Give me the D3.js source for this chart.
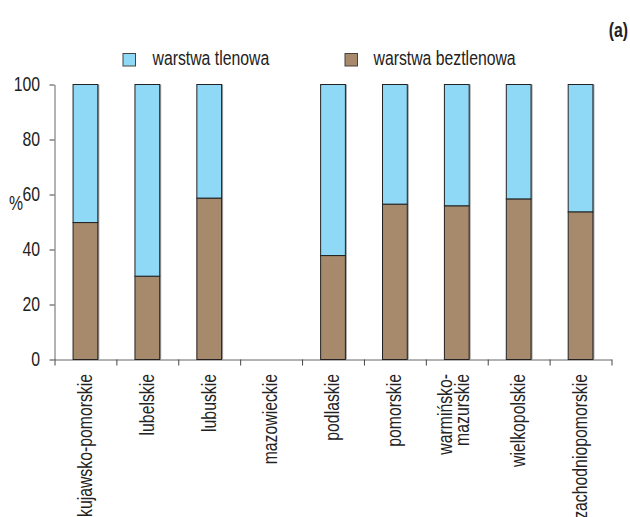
<!DOCTYPE html>
<html>
<head>
<meta charset="utf-8">
<script src="https://cdn.jsdelivr.net/npm/d3@7"></script>
<style>
  html, body { margin: 0; padding: 0; background: #fff; }
  svg { display: block; }
  text { font-family: "Liberation Sans", Arial, sans-serif; fill: #222; }
</style>
</head>
<body>
<svg id="chart" width="630" height="517"></svg>
<script>
const categories = ["kujawsko-pomorskie", "lubelskie", "lubuskie", "mazowieckie", "podlaskie", "pomorskie", "warmińsko-mazurskie", "wielkopolskie", "zachodniopomorskie"];
const categoryLabels = [["kujawsko-pomorskie"], ["lubelskie"], ["lubuskie"], ["mazowieckie"], ["podlaskie"], ["pomorskie"], ["warmińsko-", "mazurskie"], ["wielkopolskie"], ["zachodniopomorskie"]];
const beztlenowa = [49.8, 30.3, 58.7, null, 37.8, 56.5, 55.9, 58.4, 53.7];
const tlenowa = [50.2, 69.7, 41.3, null, 62.2, 43.5, 44.1, 41.6, 46.3];
const seriesNames = ["warstwa tlenowa", "warstwa beztlenowa"];
const yTicks = [0, 20, 40, 60, 80, 100];

const colors = { tlenowa: "#8fd9f6", beztlenowa: "#a78a6b" };

const FS = 19.5;      // font size
const SX = 0.81;      // horizontal condensing (narrow face)

const svg = d3.select("#chart");
const pLeft = 54.5, pRight = 611.5, pTop = 84.5, pBottom = 359.5;

const x = d3.scaleBand().domain(categories).range([pLeft, pRight]).paddingInner(0.6).paddingOuter(0.3);
const y = d3.scaleLinear().domain([0, 100]).range([pBottom, pTop]);
const xEdges = d3.scaleLinear().domain([0, categories.length]).range([pLeft, pRight]);

// Y axis
const yAxis = svg.append("g").attr("transform", `translate(${pLeft},0)`)
  .call(d3.axisLeft(y).tickValues(yTicks).tickSize(5).tickSizeOuter(0).tickPadding(9.5));
yAxis.attr("font-family", null).attr("font-size", null);
yAxis.select(".domain").attr("stroke", "#666");
yAxis.selectAll(".tick line").attr("stroke", "#444");
yAxis.selectAll(".tick text").attr("font-size", FS).attr("fill", "#222")
  .attr("x", 0).attr("transform", `translate(-14.5,0) scale(${SX},1)`);

// X axis with ticks at category boundaries
const xAxis = svg.append("g").attr("transform", `translate(0,${pBottom})`)
  .call(d3.axisBottom(xEdges).tickValues(d3.range(categories.length + 1)).tickSize(6).tickSizeOuter(0).tickFormat(""));
xAxis.select(".domain").attr("stroke", "#666");
xAxis.selectAll(".tick line").attr("stroke", "#444");

// stacked data
const stackData = categories.map((c, i) => ({ cat: c, bez: beztlenowa[i], tlen: tlenowa[i] })).filter(d => d.bez != null);

const bars = svg.append("g");
// shadow
bars.selectAll("rect.shadow").data(stackData).join("rect")
  .attr("class", "shadow")
  .attr("x", d => x(d.cat) + 1.5)
  .attr("y", d => y(d.bez + d.tlen))
  .attr("width", x.bandwidth())
  .attr("height", d => y(0) - y(d.bez + d.tlen))
  .attr("fill", "#a0a0a0");
bars.selectAll("rect.bez").data(stackData).join("rect")
  .attr("class", "bez")
  .attr("x", d => x(d.cat))
  .attr("y", d => y(d.bez))
  .attr("width", x.bandwidth())
  .attr("height", d => y(0) - y(d.bez))
  .attr("fill", colors.beztlenowa).attr("stroke", "#222").attr("stroke-width", 1);
bars.selectAll("rect.tlen").data(stackData).join("rect")
  .attr("class", "tlen")
  .attr("x", d => x(d.cat))
  .attr("y", d => y(d.bez + d.tlen))
  .attr("width", x.bandwidth())
  .attr("height", d => y(d.bez) - y(d.bez + d.tlen))
  .attr("fill", colors.tlenowa).attr("stroke", "#222").attr("stroke-width", 1);

// category labels (rotated)
const lab = svg.append("g").selectAll("text").data(categories).join("text")
  .attr("transform", d => `translate(${x(d) + x.bandwidth() / 2},374) rotate(-90) scale(${SX},1)`)
  .attr("text-anchor", "end")
  .attr("font-size", FS);
lab.each(function(d, i) {
  const lines = categoryLabels[i];
  const t = d3.select(this);
  if (lines.length === 1) {
    t.append("tspan").attr("x", 0).attr("y", 6.3).text(lines[0]);
  } else {
    t.append("tspan").attr("x", 0).attr("y", -5).text(lines[0]);
    t.append("tspan").attr("x", 0).attr("y", 12.5).text(lines[1]);
  }
});

// % label
svg.append("text").attr("transform", `translate(9,210) scale(${SX},1)`).attr("font-size", FS).text("%");

// legend
const legend = [
  { name: seriesNames[0], color: colors.tlenowa, x: 123, tx: 152.5 },
  { name: seriesNames[1], color: colors.beztlenowa, x: 345, tx: 373.5 }
];
const lg = svg.append("g").selectAll("g").data(legend).join("g");
lg.append("rect").attr("x", d => d.x).attr("y", 53.5).attr("width", 12.5).attr("height", 12.5)
  .attr("fill", d => d.color).attr("stroke", "#444").attr("stroke-width", 1);
lg.append("text").attr("transform", d => `translate(${d.tx},64.5) scale(${SX},1)`)
  .attr("font-size", FS).text(d => d.name);

// panel label
svg.append("text").attr("transform", `translate(628,37) scale(${SX},1)`).attr("text-anchor", "end")
  .attr("font-size", FS).attr("font-weight", "bold").text("(a)");
</script>
</body>
</html>
